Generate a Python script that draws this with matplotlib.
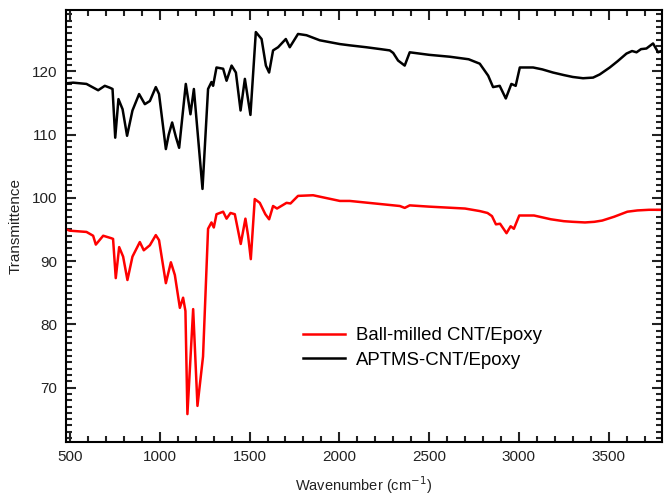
import matplotlib.pyplot as plt
from matplotlib.ticker import MultipleLocator

plt.rcParams['font.family'] = ['Liberation Sans', 'DejaVu Sans']

# APTMS-CNT/Epoxy (black)
wn_aptms = [480, 518, 592, 657, 694, 722, 737, 752, 770, 793, 818, 848, 885, 917, 945,
            978, 996, 1034, 1050, 1069, 1090, 1108, 1145, 1171, 1190, 1238, 1269, 1288,
            1297, 1316, 1353, 1372, 1400, 1424, 1450, 1474, 1505, 1535, 1567, 1591, 1609,
            1631, 1659, 1702, 1724, 1770, 1817, 1891, 2003, 2058, 2150, 2230, 2281, 2300,
            2327, 2364, 2392, 2500, 2615, 2720, 2782, 2829, 2856, 2893, 2927, 2958, 2982,
            3005, 3079, 3130, 3190, 3250, 3300, 3357, 3413, 3450, 3506, 3550, 3599, 3630,
            3655, 3680, 3710, 3747, 3775, 3800]
t_aptms = [118.1, 118.2, 118.0, 117.0, 117.7, 117.4, 117.2, 109.5, 115.6, 114.0, 109.8,
           113.8, 116.4, 114.8, 115.3, 117.5, 116.4, 107.7, 110.0, 111.9, 109.6, 107.9,
           118.0, 113.2, 117.2, 101.4, 117.2, 118.3, 117.7, 120.6, 120.4, 118.5, 120.9,
           119.8, 113.8, 118.8, 113.1, 126.2, 125.1, 120.9, 119.8, 123.3, 123.8, 125.1,
           123.8, 125.9, 125.7, 124.9, 124.3, 124.1, 123.8, 123.5, 123.3, 122.9, 121.7,
           120.9, 123.0, 122.6, 122.3, 121.9, 121.2, 119.3, 117.5, 117.7, 115.7, 118.0,
           117.7, 120.6, 120.6, 120.3, 119.8, 119.4, 119.1, 118.9, 119.0, 119.5, 120.6,
           121.6, 122.8, 123.2, 123.0, 123.5, 123.6, 124.4, 123.0, 123.3]

# Ball-milled CNT/Epoxy (red)
wn_ball = [480, 499, 592, 629, 644, 685, 731, 740, 755, 774, 796, 820, 848, 889, 911, 945,
           978, 996, 1034, 1062, 1084, 1112, 1130, 1143, 1154, 1186, 1210, 1241, 1269, 1288,
           1301, 1316, 1353, 1372, 1394, 1418, 1451, 1477, 1492, 1507, 1529, 1557, 1588,
           1609, 1631, 1653, 1706, 1728, 1770, 1854, 2003, 2058, 2337, 2364, 2392, 2500,
           2700, 2782, 2825, 2850, 2872, 2895, 2931, 2954, 2972, 3002, 3084, 3178, 3250,
           3300, 3368, 3420, 3464, 3530, 3604, 3660, 3725, 3800]
t_ball = [95.0, 94.8, 94.6, 94.0, 92.6, 94.0, 93.6, 93.5, 87.3, 92.2, 90.7, 87.0, 90.7,
          93.0, 91.7, 92.5, 94.1, 93.3, 86.5, 89.8, 87.8, 82.6, 84.2, 82.1, 65.8, 82.4,
          67.1, 74.9, 95.1, 96.1, 95.3, 97.4, 97.8, 96.7, 97.6, 97.4, 92.7, 96.7, 94.0,
          90.3, 99.8, 99.2, 97.4, 96.6, 98.7, 98.3, 99.2, 99.1, 100.3, 100.4, 99.5, 99.5,
          98.7, 98.4, 98.8, 98.6, 98.3, 97.9, 97.6, 97.1, 95.8, 95.9, 94.4, 95.5, 95.1,
          97.2, 97.2, 96.6, 96.3, 96.2, 96.1, 96.2, 96.4, 97.0, 97.8, 98.0, 98.1, 98.1]

fig = plt.figure(figsize=(6.65, 4.96), dpi=100)
ax = fig.add_axes([0.099, 0.109, 0.896, 0.871])

ax.plot(wn_ball, t_ball, color='#ff0000', lw=1.8, label='Ball-milled CNT/Epoxy')
ax.plot(wn_aptms, t_aptms, color='black', lw=1.8, label='APTMS-CNT/Epoxy')

ax.set_xlim(477, 3795)
ax.set_ylim(61.4, 129.7)
ax.xaxis.set_major_locator(MultipleLocator(500))
ax.xaxis.set_minor_locator(MultipleLocator(100))
ax.yaxis.set_major_locator(MultipleLocator(10))
ax.yaxis.set_minor_locator(MultipleLocator(1))
ax.tick_params(which='both', direction='in', top=True, right=True, width=1.5,
               labelsize=11, colors='#222222', pad=6)
ax.tick_params(which='major', length=7)
ax.tick_params(which='minor', length=4)
for s in ax.spines.values():
    s.set_linewidth(1.5)

ax.set_xlabel('Wavenumber (cm$^{-1}$)', fontsize=10.5, color='#222222', labelpad=7)
ax.set_ylabel('Transmittence', fontsize=11, color='#222222', labelpad=7)

ax.legend(loc='upper left', bbox_to_anchor=(0.398, 0.266), frameon=False, fontsize=13.4,
          handlelength=2.25, handletextpad=0.6, labelspacing=0.41, borderpad=0,
          borderaxespad=0)

fig.savefig('out.png', dpi=100)
